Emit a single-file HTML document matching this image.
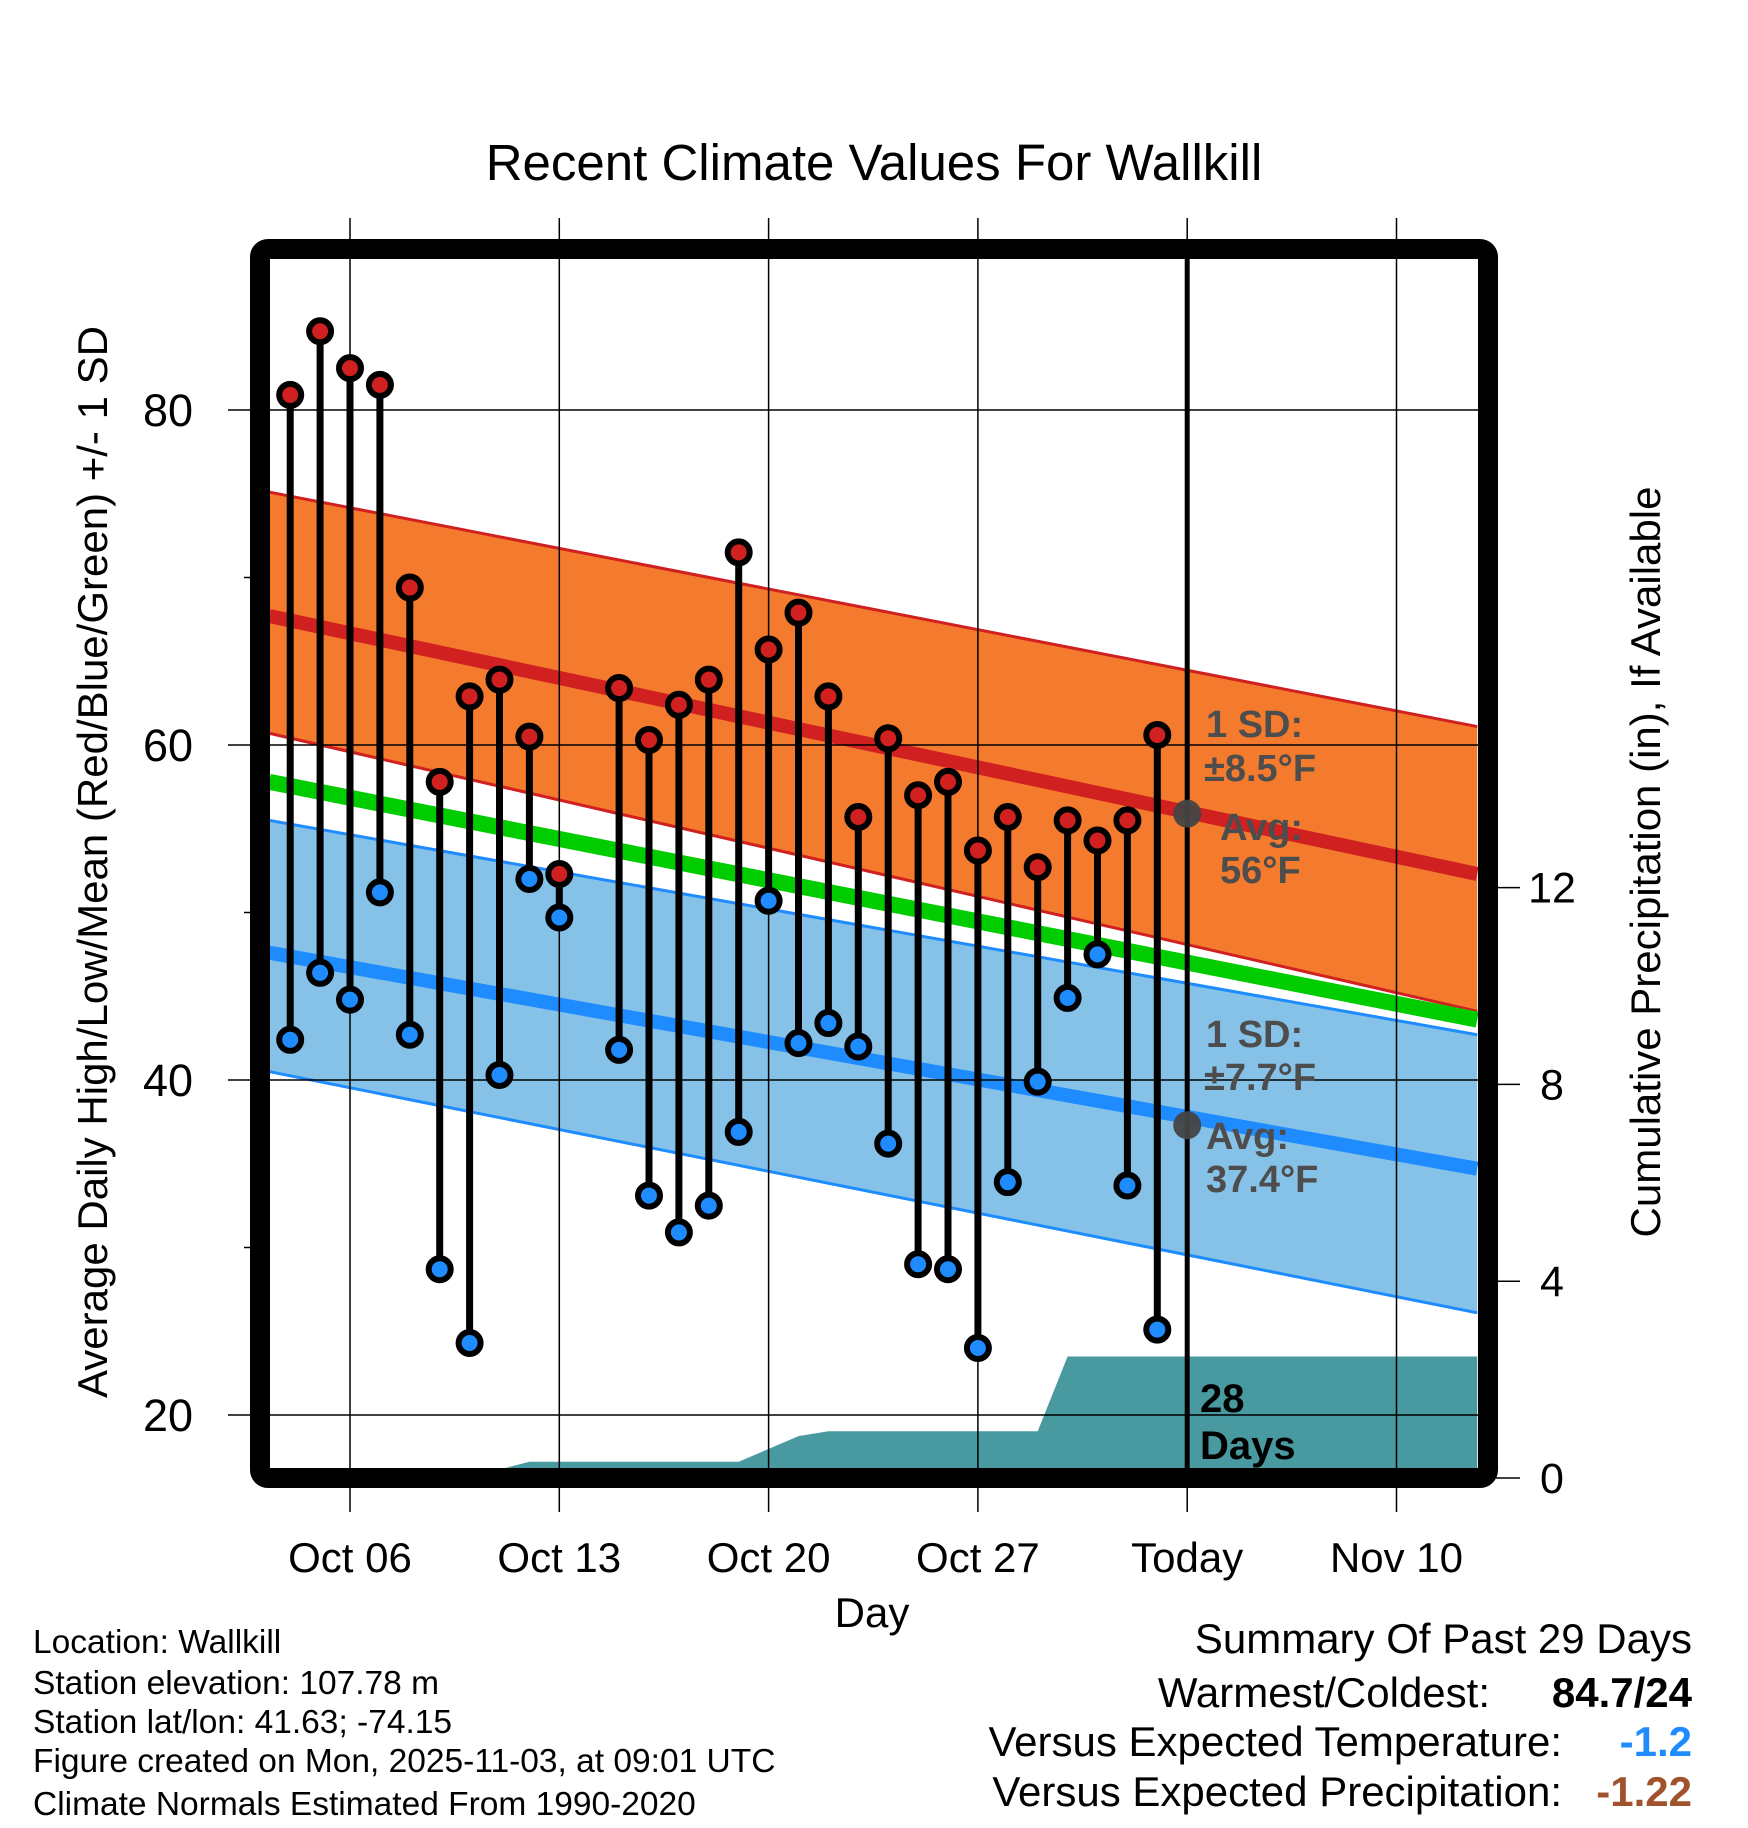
<!DOCTYPE html>
<html><head><meta charset="utf-8">
<style>
html,body{margin:0;padding:0;background:#fff;}
svg{display:block;font-family:"Liberation Sans",Arial,sans-serif;}
</style></head>
<body>
<svg id="chart" width="1748" height="1828" viewBox="0 0 1748 1828" xmlns="http://www.w3.org/2000/svg"></svg>
<script>
// ---- data ----
const obsDays = [-2,-1,0,1,2,3,4,5,6,7,9,10,11,12,13,14,15,16,17,18,19,20,21,22,23,24,25,26,27];
const highs = [80.9,84.7,82.5,81.5,69.4,57.8,62.9,63.9,60.5,52.3,63.4,60.3,62.4,63.9,71.5,65.7,67.9,62.9,55.7,60.4,57.0,57.8,53.7,55.7,52.7,55.5,54.3,55.5,60.6];
const lows = [42.4,46.4,44.8,51.2,42.7,28.7,24.3,40.3,52.0,49.7,41.8,33.1,30.9,32.5,36.9,50.7,42.2,43.4,42.0,36.2,29.0,28.7,24.0,33.9,39.9,44.9,47.5,33.7,25.1];
const normDays = [-2.7,37.7];
const highUpper = [75.1,61.1];
const highMean = [67.7,52.3];
const highLower = [60.7,44.1];
const meanNorm = [57.8,43.6];
const lowUpper = [55.5,42.7];
const lowMean = [47.6,34.7];
const lowLower = [40.5,26.1];
const precipDays = [-2.7,3.9,6,13,15,16,23,24,37.7];
const precipCum = [0,0,0.33,0.33,0.85,0.95,0.95,2.47,2.47];
const xTickDays = [0,7,14,21,28,35];
const xTickLabels = ["Oct 06","Oct 13","Oct 20","Oct 27","Today","Nov 10"];
const yTicks = [20,40,60,80];
const yMinor = [30,50,70];
const pTicks = [0,4,8,12];
const todayDay = 28;
const todayHighAvg = 55.9, todayLowAvg = 37.3;

// ---- scales ----
const X = d => 350 + d*29.9;
const Y = v => 410 + (80-v)*16.75;
const P = p => 1478 - p*49.2;
const L=270,R=1478,T=260,B=1468;

const svg=document.getElementById('chart');
const NS='http://www.w3.org/2000/svg';
function mk(tag,attrs,parent){const e=document.createElementNS(NS,tag);for(const k in attrs)e.setAttribute(k,attrs[k]);(parent||svg).appendChild(e);return e;}
function txt(s,attrs,parent){const e=mk('text',attrs,parent);e.textContent=s;return e;}

const defs=mk('defs',{});
const cp=mk('clipPath',{id:'plotclip'},defs);
mk('rect',{x:L,y:T,width:R-L,height:B-T},cp);

const title=txt('Recent Climate Values For Wallkill',{x:874,y:180,'font-size':51,'text-anchor':'middle'});



const plot=mk('g',{'clip-path':'url(#plotclip)'});



function band(up,lo,fill,name){
  const pts=[[X(normDays[0]),Y(up[0])],[X(normDays[1]),Y(up[1])],[X(normDays[1]),Y(lo[1])],[X(normDays[0]),Y(lo[0])]];
  const p=mk('polygon',{points:pts.map(a=>a.join(',')).join(' '),fill:fill},plot);
  
  
}
function line(arr,color,w,name){
  const l=mk('line',{x1:X(normDays[0]),y1:Y(arr[0]),x2:X(normDays[1]),y2:Y(arr[1]),stroke:color,'stroke-width':w},plot);
  
  
}
band(highUpper,highLower,'#f47a2e','high-sd-band');
line(highUpper,'#d02020',3,'high-sd-upper');
line(highLower,'#d02020',3,'high-sd-lower');
band(lowUpper,lowLower,'#86c2e8','low-sd-band');
line(lowUpper,'#1e8cff',3,'low-sd-upper');
line(lowLower,'#1e8cff',3,'low-sd-lower');
line(meanNorm,'#00cc00',16,'mean-normal-line');
line(highMean,'#d02020',14,'high-normal-line');
line(lowMean,'#1e8cff',14,'low-normal-line');

let pp=precipDays.map((d,i)=>X(d)+','+P(precipCum[i]));
pp.push(X(precipDays[precipDays.length-1])+','+P(0));
pp.push(X(precipDays[0])+','+P(0));
const pa=mk('polygon',{points:pp.join(' '),fill:'#4899a0'},plot);



xTickDays.forEach((d,i)=>{
  const g=mk('line',{x1:X(d),y1:218,x2:X(d),y2:1512,stroke:'#000','stroke-width':1.5});
  
  
  const t=txt(xTickLabels[i],{x:X(d),y:1572,'font-size':42,'text-anchor':'middle'});
  
  
});
yTicks.forEach(v=>{
  const g=mk('line',{x1:228,y1:Y(v),x2:R,y2:Y(v),stroke:'#000','stroke-width':1.5});
  
  
  const t=txt(String(v),{x:193,y:Y(v)+16,'font-size':45,'text-anchor':'end'});
  
  
});
yMinor.forEach(v=>{
  const g=mk('line',{x1:244,y1:Y(v),x2:252,y2:Y(v),stroke:'#000','stroke-width':1.5});
  
  
});
pTicks.forEach(p=>{
  const g=mk('line',{x1:1496,y1:P(p),x2:1520,y2:P(p),stroke:'#000','stroke-width':1.5});
  
  
  const t=txt(String(p),{x:1552,y:P(p)+15,'font-size':43,'text-anchor':'middle'});
  
  
});

const tl=mk('line',{x1:X(todayDay),y1:245,x2:X(todayDay),y2:B,stroke:'#000','stroke-width':5});



obsDays.forEach((d,i)=>{
  const g=mk('g',{});
  
  
  mk('line',{x1:X(d),y1:Y(highs[i]),x2:X(d),y2:Y(lows[i]),stroke:'#000','stroke-width':7},g);
  const h=mk('circle',{cx:X(d),cy:Y(highs[i]),r:11,fill:'#d02020',stroke:'#000','stroke-width':6},g);
  
  
  const lo=mk('circle',{cx:X(d),cy:Y(lows[i]),r:11,fill:'#1e8cff',stroke:'#000','stroke-width':6},g);
  
  
});

[todayHighAvg,todayLowAvg].forEach(v=>{
  const c=mk('circle',{cx:X(todayDay),cy:Y(v),r:14,fill:'#444','fill-opacity':0.95});
  
  
});

const ann=[['1 SD:',1206,737],['±8.5°F',1204,781],['Avg:',1220,840],['56°F',1220,883],['1 SD:',1206,1047],['±7.7°F',1204,1090],['Avg:',1206,1149],['37.4°F',1206,1192]];
ann.forEach(a=>{
  const t=txt(a[0],{x:a[1],y:a[2],'font-size':38,'font-weight':'bold',fill:'#4d4d4d'});
  
  
});
const d1=txt('28',{x:1200,y:1412,'font-size':40,'font-weight':'bold'});


const d2=txt('Days',{x:1200,y:1459,'font-size':40,'font-weight':'bold'});



const fr=mk('rect',{x:260,y:249,width:1228,height:1229,rx:8,fill:'none',stroke:'#000','stroke-width':20});



const yt=txt('Average Daily High/Low/Mean (Red/Blue/Green) +/- 1 SD',{x:0,y:0,'font-size':42,'text-anchor':'middle',transform:'translate(107,862) rotate(-90)'});


const rt=txt('Cumulative Precipitation (in), If Available',{x:0,y:0,'font-size':42,'text-anchor':'middle',transform:'translate(1660,862) rotate(-90)'});


const xt=txt('Day',{x:872,y:1627,'font-size':42,'text-anchor':'middle'});



const info=['Location: Wallkill','Station elevation: 107.78 m','Station lat/lon: 41.63; -74.15','Figure created on Mon, 2025-11-03, at 09:01 UTC','Climate Normals Estimated From 1990-2020'];
const infoY=[1653,1694,1733,1772,1815];
info.forEach((s,i)=>{
  const t=txt(s,{x:33,y:infoY[i],'font-size':33.5});
  
  
});

const s0=txt('Summary Of Past 29 Days',{x:1692,y:1653,'font-size':42,'text-anchor':'end'});


const sl=[['Warmest/Coldest:',1490,1707,'84.7/24','#000'],['Versus Expected Temperature:',1562,1756,'-1.2','#1e8cff'],['Versus Expected Precipitation:',1562,1806,'-1.22','#a0522d']];
sl.forEach(r=>{
  const a=txt(r[0],{x:r[1],y:r[2],'font-size':42,'text-anchor':'end'});
  
  
  const b=txt(r[3],{x:1692,y:r[2],'font-size':42,'font-weight':'bold','text-anchor':'end',fill:r[4]});
  
  
});
</script>
</body></html>
